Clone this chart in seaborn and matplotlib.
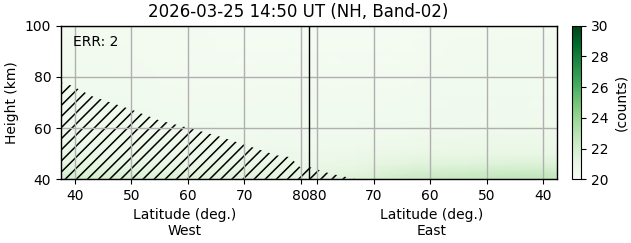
import numpy as np
import matplotlib
matplotlib.use("Agg")
import matplotlib.pyplot as plt
import seaborn as sns

sns.set_theme(style="ticks", rc={"text.color": "black", "axes.labelcolor": "black",
                                  "xtick.color": "black", "ytick.color": "black",
                                  "axes.edgecolor": "black"})
plt.rcParams['font.family'] = ['DejaVu Sans']
plt.rcParams['hatch.linewidth'] = 1.1

# ---- data ----
title = "2026-03-25 14:50 UT (NH, Band-02)"
err_text = "ERR: 2"
# along-track coordinate: West lat L -> L, East lat L -> 163 - L
track_pos = [37.5, 45, 55, 65, 75, 82, 90, 100, 110, 118, 125.5]
heights = [40, 43, 46, 50, 55, 65, 80, 100]
counts = [
    [22.2, 22.0, 21.8, 21.6, 21.4, 21.2, 21.6, 22.4, 22.6, 22.8, 22.7],
    [21.6, 21.5, 21.3, 21.2, 21.1, 21.0, 21.3, 21.9, 22.1, 22.2, 22.3],
    [21.2, 21.1, 21.0, 20.9, 20.9, 20.8, 21.0, 21.4, 21.5, 21.6, 21.6],
    [20.9, 20.8, 20.8, 20.7, 20.7, 20.6, 20.7, 20.9, 21.0, 21.0, 21.0],
    [20.7, 20.6, 20.6, 20.5, 20.5, 20.5, 20.5, 20.6, 20.7, 20.7, 20.7],
    [20.5, 20.5, 20.4, 20.4, 20.4, 20.4, 20.4, 20.4, 20.5, 20.5, 20.5],
    [20.4, 20.4, 20.3, 20.3, 20.3, 20.3, 20.3, 20.3, 20.4, 20.4, 20.4],
    [20.3, 20.3, 20.3, 20.2, 20.2, 20.2, 20.2, 20.2, 20.3, 20.3, 20.3],
]
hatch_pos = [37.5, 39.4, 43.2, 49.7, 55.0, 59.1, 65.1, 70.4, 75.7, 78.1, 79.9, 81.6, 85.2, 90.0]
hatch_top = [77.9, 76.6, 72.3, 67.5, 63.0, 60.7, 57.1, 53.3, 49.4, 48.7, 44.8, 44.8, 42.3, 40.0]
tick_pos = [40, 50, 60, 70, 80, 83, 93, 103, 113, 123]
tick_labels = ['40', '50', '60', '70', '80', '80', '70', '60', '50', '40']
pole_pos = 81.5
xlim = (37.5, 125.5)
ylim = (40, 100)
vmin, vmax = 20, 30

fig = plt.figure(figsize=(6.31, 2.43), dpi=100)
ax = fig.add_axes([0.0967, 0.262, 0.7860, 0.632])
cax = fig.add_axes([0.9065, 0.262, 0.0143, 0.632])

cmap = sns.color_palette("Greens", as_cmap=True)
X, Y = np.meshgrid(track_pos, heights)
mesh = ax.pcolormesh(X, Y, np.array(counts), cmap=cmap, vmin=vmin, vmax=vmax,
                     shading='gouraud', zorder=0)

ax.fill_between(hatch_pos, ylim[0], hatch_top, facecolor='none', edgecolor='black',
                hatch='///', linewidth=0, zorder=2)

ax.axvline(pole_pos, color='black', linewidth=1.0, zorder=3)

ax.set_xlim(*xlim)
ax.set_ylim(*ylim)
ax.set_xticks(tick_pos)
ax.set_xticklabels(tick_labels)
ax.set_yticks([40, 60, 80, 100])
ax.grid(True, color='#b0b0b0', linewidth=1.0, zorder=1)
ax.set_axisbelow(False)
for sp in ax.spines.values():
    sp.set_linewidth(1.0)
    sp.set_color('black')
    sp.set_zorder(4)
ax.tick_params(axis='both', labelsize=10, colors='black', length=3.5, width=0.8,
               direction='out')
ax.set_ylabel("Height (km)", fontsize=10)
ax.set_title(title, fontsize=12, color='black', x=0.479)
ax.text(0.025, 0.94, err_text, transform=ax.transAxes, fontsize=10,
        ha='left', va='top', color='black')

trans = matplotlib.transforms.blended_transform_factory(ax.transData, ax.transAxes)
ax.text(59.5, -0.185, "Latitude (deg.)\nWest", transform=trans, ha='center', va='top',
        fontsize=10, linespacing=1.2, color='black')
ax.text(103.3, -0.185, "Latitude (deg.)\nEast", transform=trans, ha='center', va='top',
        fontsize=10, linespacing=1.2, color='black')

cb = fig.colorbar(mesh, cax=cax)
cb.set_ticks([20, 22, 24, 26, 28, 30])
cb.set_label("(counts)", fontsize=10, color='black')
cb.outline.set_linewidth(0.8)
cb.outline.set_edgecolor('black')
cax.tick_params(labelsize=10, length=3.5, width=0.8, colors='black')

fig.savefig("out.png", dpi=100)
